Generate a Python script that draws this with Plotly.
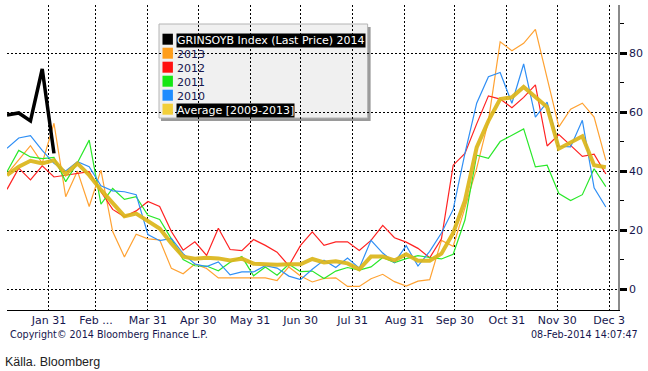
import plotly.graph_objects as go
import pandas as pd

# ---------------- data ----------------
weeks = pd.date_range("2013-01-06", periods=52, freq="7D")

orange_2013 = [39, 43.7, 48.6, 42.7, 56.2, 31.3, 40, 28, 40.3, 19.5, 10.9, 18.6, 17, 16.7, 7, 5.2,
               8.5, 7, 3.8, 3.8, 3.8, 4, 3.8, 2.9, 7.5, 4.4, 2.4, 3.6, 3.8, 0.9, 0.9, 3.5,
               5, 2.5, 1, 2.7, 3.2, 16.5, 14.5, 27.5, 41, 57, 83.8, 80.8, 83.3, 88, 71, 55,
               61, 63, 58.3, 43.6]
red_2012 = [33.8, 41, 37, 41.8, 38, 38.6, 39, 39.8, 33, 27, 24.5, 26.5, 29.7, 28, 19.5, 13.2,
            16, 11.4, 20.6, 13.4, 13, 16.8, 14.8, 12.5, 7.9, 14.8, 19.4, 14.8, 16, 16, 13.1, 16.5,
            21.6, 17.4, 15.9, 13.8, 10.6, 17, 42, 46, 56, 65.5, 64.4, 61.5, 65, 69.2, 48.5, 52.4,
            48.7, 45, 45.7, 39]
green_2011 = [39.8, 47, 44.8, 44.2, 44.6, 36.4, 42.8, 50.5, 28.8, 34.1, 30.4, 31.3, 25, 23.6, 17, 10,
              7.9, 7.8, 6.2, 9.1, 11, 4.5, 7.5, 4.7, 8.4, 5.9, 6.1, 3.6, 6.1, 7.3, 6.4, 7.5,
              10.7, 9, 10.3, 11.3, 10.7, 10.2, 11.8, 23.4, 45.4, 44.3, 50, 52.2, 54.3, 41.4, 42, 32.4,
              30, 32, 40.8, 34.7]
blue_2010 = [47.7, 51.2, 52, 47, 42.6, 40, 43.2, 41.5, 35, 33.3, 33, 32, 18.5, 16.4, 17.2, 12,
             8.5, 7.6, 9.2, 4.8, 5.8, 5.8, 7.9, 7.1, 4.4, 3.2, 6.7, 9.8, 7.3, 10.5, 7.1, 16.5,
             12.2, 9, 14.7, 7.8, 12.8, 19, 27, 46, 63, 72, 73.4, 63, 76.3, 58.3, 63.4, 48.4,
             48.2, 57.2, 34.3, 27.8]
avg_2009_2013 = [38.6, 41.5, 43.5, 42.6, 43.7, 39, 42.6, 38.6, 33.6, 29, 24.7, 25.6, 23, 20.5, 15.5, 11,
                 10.3, 10.6, 10.4, 9.7, 10.3, 8.6, 8.4, 8.2, 8.4, 8.4, 10.2, 9, 9.4, 8.7, 6.7, 11,
                 11, 9.7, 11.8, 9.6, 9.6, 12, 19, 30, 48, 57, 64.4, 65, 68.5, 65.3, 61.7, 47.6,
                 49.7, 51.8, 42, 41.3]
black_2014 = [59, 59.7, 57, 74.6, 46]

tick_dates = ["2013-01-31", "2013-02-28", "2013-03-31", "2013-04-30", "2013-05-31", "2013-06-30",
              "2013-07-31", "2013-08-31", "2013-09-30", "2013-10-31", "2013-11-30", "2013-12-31"]
tick_labels = ["Jan 31", "Feb ...", "Mar 31", "Apr 30", "May 31", "Jun 30",
               "Jul 31", "Aug 31", "Sep 30", "Oct 31", "Nov 30", "Dec 3"]
y_ticks = [0, 20, 40, 60, 80]
y_minor = [10, 30, 50, 70, 90]

legend_names = ["GRINSOYB Index (Last Price) 2014", "2013", "2012", "2011", "2010", "Average [2009-2013]"]

# ---------------- styles ----------------
FONT = "DejaVu Sans"
TXT = "#16164e"
C_OR, C_RED, C_GR, C_BL, C_AVG = "#ffa232", "#ff2222", "#2ae82a", "#2f8ff5", "#dcb61a"
legend_colors = ["#000000", "#ff9d1a", "#ff1010", "#14e614", "#1e8cff", "#f2cf3a"]

fig = go.Figure()
for vals, col, w in [(orange_2013, C_OR, 1.2), (red_2012, C_RED, 1.2), (green_2011, C_GR, 1.2),
                     (blue_2010, C_BL, 1.2)]:
    fig.add_trace(go.Scatter(x=weeks, y=vals, mode="lines", line=dict(color=col, width=w),
                             hoverinfo="skip"))
fig.add_trace(go.Scatter(x=weeks, y=avg_2009_2013, mode="lines",
                         line=dict(color=C_AVG, width=4), opacity=0.92, hoverinfo="skip"))
fig.add_trace(go.Scatter(x=weeks[:len(black_2014)], y=black_2014, mode="lines",
                         line=dict(color="#000000", width=3.5), hoverinfo="skip"))

# pixel -> paper helpers (plot area: x 7..622, y 5..310)
L, R, T, B = 7, 622, 5, 310
def px(xp):
    return (xp - L) / (R - L)
def py(yp):
    return (B - yp) / (B - T)

shapes = []
annotations = []
# legend box (drawn below grid so the grid shows through)
shapes.append(dict(type="rect", xref="paper", yref="paper", x0=px(162), x1=px(373), y0=py(121), y1=py(27),
                   line=dict(width=0), fillcolor="#9a9a9a", layer="below"))
shapes.append(dict(type="rect", xref="paper", yref="paper", x0=px(160), x1=px(370), y0=py(118), y1=py(24),
                   line=dict(color="#b4b4b4", width=1), fillcolor="#f0f0f0", layer="below"))
for k, (name, col) in enumerate(zip(legend_names, legend_colors)):
    cy = 39.2 + 14 * k
    shapes.append(dict(type="rect", xref="paper", yref="paper", x0=px(163.5), x1=px(174), y0=py(cy + 5.5),
                       y1=py(cy - 5.5), line=dict(width=0), fillcolor=col, layer="above"))
    hi = k in (0, 5)
    annotations.append(dict(xref="paper", yref="paper", x=px(177), y=py(cy + 1), xanchor="left",
                            yanchor="middle", text=name, showarrow=False,
                            font=dict(family=FONT, size=11, color="#ffffff" if hi else TXT),
                            bgcolor="#000000" if hi else None, borderpad=0))

annotations.append(dict(xref="paper", yref="paper", x=px(8), y=py(334), xanchor="left", yanchor="middle",
                        text="Copyright© 2014 Bloomberg Finance L.P.", showarrow=False,
                        font=dict(family=FONT, size=9.6, color=TXT)))
annotations.append(dict(xref="paper", yref="paper", x=px(644), y=py(334), xanchor="right", yanchor="middle",
                        text="08-Feb-2014 14:07:47", showarrow=False,
                        font=dict(family=FONT, size=9.6, color=TXT)))
annotations.append(dict(xref="paper", yref="paper", x=px(3), y=py(362), xanchor="left", yanchor="middle",
                        text="Källa. Bloomberg", showarrow=False,
                        font=dict(family="Liberation Sans", size=12.5, color="#222222")))

grid = dict(showgrid=True, gridcolor="#000000", gridwidth=1, griddash="2px,2px", zeroline=False)

fig.update_layout(
    width=648, height=371,
    margin=dict(l=L, r=648 - R, t=T, b=371 - B),
    paper_bgcolor="#ffffff", plot_bgcolor="#ffffff",
    showlegend=False,
    shapes=shapes, annotations=annotations,
    xaxis=dict(type="date", range=["2013-01-06", "2014-01-05 06:00"], tickmode="array",
               tickvals=tick_dates, ticktext=tick_labels, showline=True, linecolor="#000000",
               linewidth=1, ticks="", tickfont=dict(family=FONT, size=11, color=TXT), **grid),
    yaxis=dict(side="right", range=[-7.1, 96.3], tickmode="array", tickvals=y_ticks,
               showline=True, linecolor="#8a8a8a", linewidth=1.5,
               ticks="outside", ticklen=7, tickwidth=3, tickcolor="#000000",
               minor=dict(tickmode="array", tickvals=y_minor, ticks="outside", ticklen=4,
                          tickwidth=1, tickcolor="#000000", showgrid=False),
               tickfont=dict(family=FONT, size=11, color=TXT), **grid),
)

fig.write_html("out.html", config={"displayModeBar": False},
               post_script="document.body.style.margin='0';document.body.style.overflow='hidden';")
